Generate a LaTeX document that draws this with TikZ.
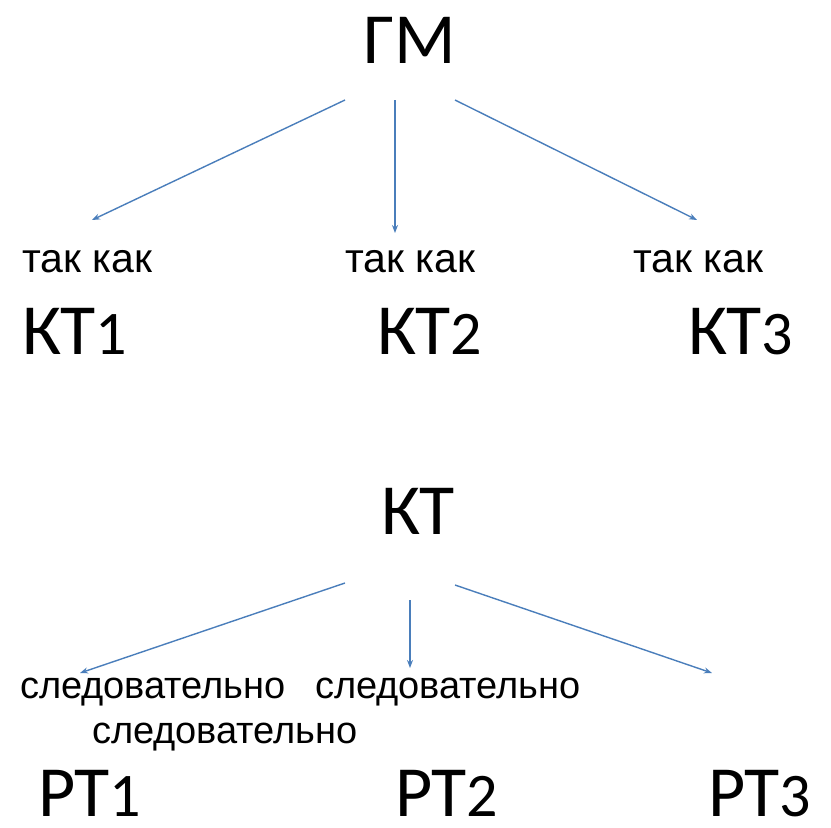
\documentclass[tikz,border=0pt]{standalone}
\usepackage{fontspec}
\setmainfont{Liberation Sans}
\newfontfamily\bigfont{Carlito}
\usetikzlibrary{arrows.meta}

\definecolor{arrowblue}{HTML}{4A7EBB}

% smaller digit after a label
\newcommand{\dig}[1]{{\fontsize{62}{70}\selectfont #1}}

\tikzset{
  big/.style={inner sep=0pt, text depth=0pt, font=\bigfont\fontsize{72}{80}\selectfont},
  word/.style={inner sep=0pt, font=\fontsize{38}{44}\selectfont},
  because/.style={word, font=\fontsize{41}{46}\selectfont},
  link/.style={draw=arrowblue, line width=1.4pt, -{Stealth[length=8pt,width=6pt]}}
}

\begin{document}
\begin{tikzpicture}[x=1pt,y=-1pt]
    \useasboundingbox (0,0) rectangle (831,828);

    %% Top tree
    \node [big, anchor=base] (gm) at (410,63) {ГМ};

    \node [because, anchor=base west] (why1) at (22,272) {так как};
    \node [because, anchor=base west] (why2) at (345,272) {так как};
    \node [because, anchor=base west] (why3) at (633,272) {так как};

    \node [big, anchor=base west] (kt1) at (22,354) {КТ\dig{1}};
    \node [big, anchor=base west] (kt2) at (377,354) {КТ\dig{2}};
    \node [big, anchor=base west] (kt3) at (688,354) {КТ\dig{3}};

    \coordinate (gm-l) at (345,100);
    \coordinate (gm-m) at (395,100);
    \coordinate (gm-r) at (455,100);
    \coordinate (why1-in) at (92,220);
    \coordinate (why2-in) at (395,233);
    \coordinate (why3-in) at (697,220);

    \draw [link] (gm-l) -- (why1-in);
    \draw [link] (gm-m) -- (why2-in);
    \draw [link] (gm-r) -- (why3-in);

    %% Bottom tree
    \node [big, anchor=base] (kt) at (418,534) {КТ};

    \node [word, anchor=base west] (so1) at (20,698) {следовательно};
    \node [word, anchor=base west] (so2) at (315,698) {следовательно};
    \node [word, anchor=base west] (so3) at (92,743) {следовательно};

    \node [big, anchor=base west] (rt1) at (38,816) {РТ\dig{1}};
    \node [big, anchor=base west] (rt2) at (395,816) {РТ\dig{2}};
    \node [big, anchor=base west] (rt3) at (708,816) {РТ\dig{3}};

    \coordinate (kt-l) at (345,583);
    \coordinate (kt-m) at (410,600);
    \coordinate (kt-r) at (455,585);
    \coordinate (so1-in) at (80,673);
    \coordinate (so2-in) at (410,668);
    \coordinate (so3-in) at (712,673);

    \draw [link] (kt-l) -- (so1-in);
    \draw [link] (kt-m) -- (so2-in);
    \draw [link] (kt-r) -- (so3-in);
\end{tikzpicture}
\end{document}
